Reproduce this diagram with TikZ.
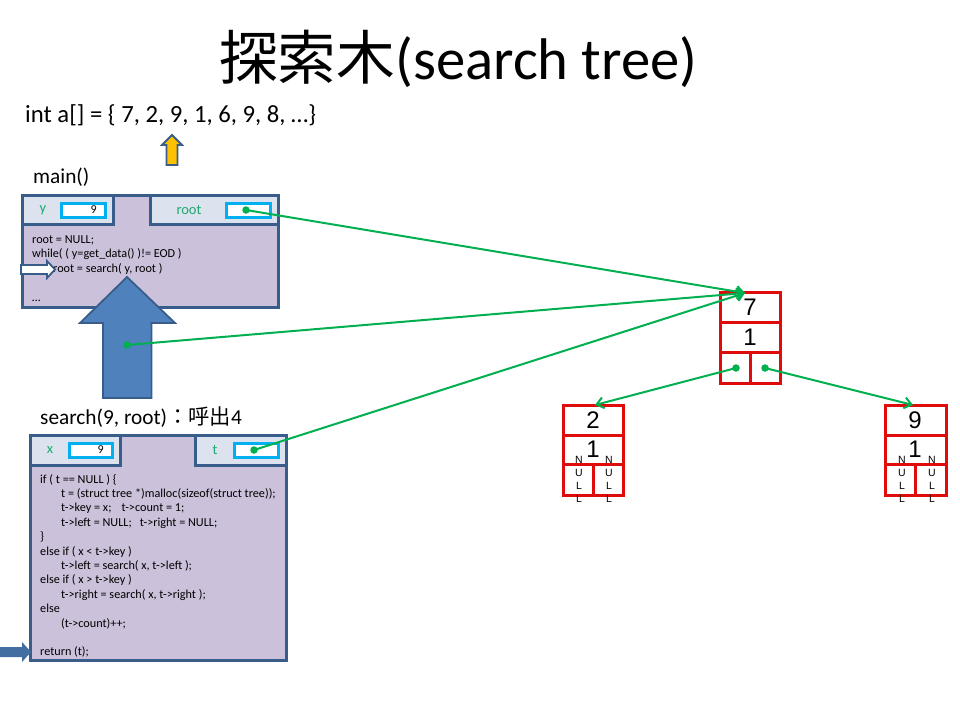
\documentclass[tikz,border=0pt]{standalone}
\usepackage{fontspec}
\setmainfont{Carlito}
\newfontfamily\jp{Noto Sans CJK JP}
\newfontfamily\arialf{Liberation Sans}
\usetikzlibrary{arrows.meta}
\definecolor{frameb}{HTML}{385D8A}
\definecolor{purp}{HTML}{CCC1DA}
\definecolor{tabf}{HTML}{DCE3EF}
\definecolor{cyanb}{HTML}{00B0F0}
\definecolor{grn}{HTML}{00B050}
\definecolor{lblg}{HTML}{1FA870}
\definecolor{redb}{HTML}{E00C0C}
\definecolor{bigblue}{HTML}{4F81BD}
\definecolor{gold}{HTML}{FFC000}
\tikzset{
  framebox/.style={draw=frameb, line width=3pt, fill=purp},
  tabbox/.style={draw=frameb, line width=3pt, fill=tabf},
  valbox/.style={draw=cyanb, line width=3pt, fill=white},
  tablbl/.style={font=\fontsize{14.5}{17}\selectfont, text=lblg, inner sep=0pt},
  vallbl/.style={font=\fontsize{12}{14}\selectfont, inner sep=0pt, anchor=east},
  code/.style={font=\fontsize{12.2}{14}\selectfont, inner sep=0pt, anchor=base west},
  redcell/.style={draw=redb, line width=3pt},
  treenum/.style={font=\arialf\fontsize{24}{26}\selectfont, inner sep=0pt},
  nullch/.style={font=\arialf\fontsize{10.5}{12}\selectfont, inner sep=0pt},
  gline/.style={draw=grn, line width=2pt, -{Straight Barb[length=7pt,width=11pt,line width=2pt]}},
  gdot/.style={circle, fill=grn, inner sep=0pt, minimum size=7.5pt},
  big/.style={font=\fontsize{24.7}{28}\selectfont, inner sep=0pt, anchor=base west},
  mid/.style={font=\fontsize{21.3}{25}\selectfont, inner sep=0pt, anchor=base west},
}
\begin{document}
\begin{tikzpicture}[x=1pt,y=-1pt]
\useasboundingbox (0,0) rectangle (960,720);
\fill[white] (0,0) rectangle (960,720);

% title
\node[inner sep=0pt, anchor=base west] (title) at (219,79)
  {\fontsize{58.7}{64}\selectfont{\jp 探索木}(search tree)};
\node[big] (arr) at (25,122) {int a[] = \{ 7, 2, 9, 1, 6, 9, 8, …\}};

% yellow arrow
\draw[draw=frameb, line width=1.8pt, fill=gold, line join=miter]
  (172,135) -- (182,145) -- (177.5,145) -- (177.5,165) -- (166.5,165) -- (166.5,145) -- (162,145) -- cycle;

\node[mid] (mainlbl) at (33,183) {main()};

% main frame
\path[framebox] (22,195) rectangle (278,307);
\path[tabbox] (22,195) rectangle (113,224);
\path[tabbox] (150,195) rectangle (278,224);
\node[tablbl] (ylbl) at (43,210) {y};
\path[valbox] (61,203) rectangle (105,217);
\node[vallbl] (yval) at (97,210) {9};
\node[tablbl] (rootlbl) at (189,210) {root};
\path[valbox] (226,203) rectangle (270,217);
\node[gdot] (rootdot) at (246,210) {};

\node[code] (m1) at (32,243) {root = NULL;};
\node[code] (m2) at (32,257.5) {while( ( y=get\_data() )!= EOD )};
\node[code] (m3) at (53,272) {root = search( y, root )};
\node[code] (m4) at (32,301) {…};

% small outline arrow
\draw[draw=frameb, line width=1.8pt, fill=white, line join=miter]
  (21,265) -- (47,265) -- (47,261) -- (55,269.5) -- (47,278) -- (47,274) -- (21,274) -- cycle;

% big blue arrow
\draw[draw=frameb, line width=1.8pt, fill=bigblue, line join=miter]
  (127,277) -- (175,323) -- (151.5,323) -- (151.5,398) -- (103,398) -- (103,323) -- (80,323) -- cycle;
\node[gdot] (bigdot) at (127,345) {};

% search label
\node[mid] (searchlbl) at (40,424) {search(9, root){\jp ：呼出}4};

% search frame
\path[framebox] (30,435) rectangle (286,660);
\path[tabbox] (30,435) rectangle (120,465);
\path[tabbox] (195,435) rectangle (286,465);
\node[tablbl] (xlbl) at (50,450) {x};
\path[valbox] (69,443) rectangle (112,457);
\node[vallbl] (xval) at (104,450) {9};
\node[tablbl] (tlbl) at (215,450) {t};
\path[valbox] (234,443) rectangle (278,457);
\node[gdot] (tdot) at (254,450) {};

\node[code] (s1) at (40,483) {if ( t == NULL ) \{};
\node[code] (s2) at (61,497.4) {t = (struct tree *)malloc(sizeof(struct tree));};
\node[code] (s3) at (61,511.8) {t->key = x;\hspace{10pt}t->count = 1;};
\node[code] (s4) at (61,526.2) {t->left = NULL;\hspace{8pt}t->right = NULL;};
\node[code] (s5) at (40,540.6) {\}};
\node[code] (s6) at (40,555) {else if ( x < t->key )};
\node[code] (s7) at (61,569.4) {t->left = search( x, t->left );};
\node[code] (s8) at (40,583.8) {else if ( x > t->key )};
\node[code] (s9) at (61,598.2) {t->right = search( x, t->right );};
\node[code] (s10) at (40,612.6) {else};
\node[code] (s11) at (61,627) {(t->count)++;};
\node[code] (s12) at (40,655.8) {return (t);};

% left blue arrow
\fill[bigblue!85!black] (0,647) -- (22,647) -- (22,642) -- (31,652) -- (22,662) -- (22,657) -- (0,657) -- cycle;

% tree nodes
% root node 7
\draw[redcell] (720,292) rectangle (780,383);
\draw[redcell] (720,322) -- (780,322);
\draw[redcell] (720,352) -- (780,352);
\draw[redcell] (750,352) -- (750,383);
\node[treenum] (n7) at (750,307) {7};
\node[treenum] (n7c) at (750,337) {1};
\coordinate (n7top) at (745,293);
\node[gdot] (n7l) at (736,368) {};
\node[gdot] (n7r) at (765,368) {};

% left node 2
\draw[redcell] (563,405) rectangle (623,495);
\draw[redcell] (563,435) -- (623,435);
\draw[redcell] (563,464) -- (623,464);
\draw[redcell] (593,464) -- (593,495);
\node[treenum] (n2) at (593,420) {2};
\node[treenum] (n2c) at (593,449) {1};
\coordinate (n2top) at (595,405);
\foreach \xx in {579,609}{
  \node[nullch] at (\xx,460) {N};
  \node[nullch] at (\xx,473) {U};
  \node[nullch] at (\xx,486) {L};
  \node[nullch] at (\xx,498.5) {L};
}

% right node 9
\draw[redcell] (885,405) rectangle (946,495);
\draw[redcell] (885,435) -- (946,435);
\draw[redcell] (885,464) -- (946,464);
\draw[redcell] (915,464) -- (915,495);
\node[treenum] (n9) at (915,420) {9};
\node[treenum] (n9c) at (915,449) {1};
\coordinate (n9top) at (913,405);
\foreach \xx in {902,932}{
  \node[nullch] at (\xx,460) {N};
  \node[nullch] at (\xx,473) {U};
  \node[nullch] at (\xx,486) {L};
  \node[nullch] at (\xx,498.5) {L};
}

% green connectors
\draw[gline] (rootdot.center) -- (n7top);
\draw[gline] (bigdot.center) -- (n7top);
\draw[gline] (tdot.center) -- (n7top);
\draw[gline] (n7l.center) -- (n2top);
\draw[gline] (n7r.center) -- (n9top);
\end{tikzpicture}
\end{document}
